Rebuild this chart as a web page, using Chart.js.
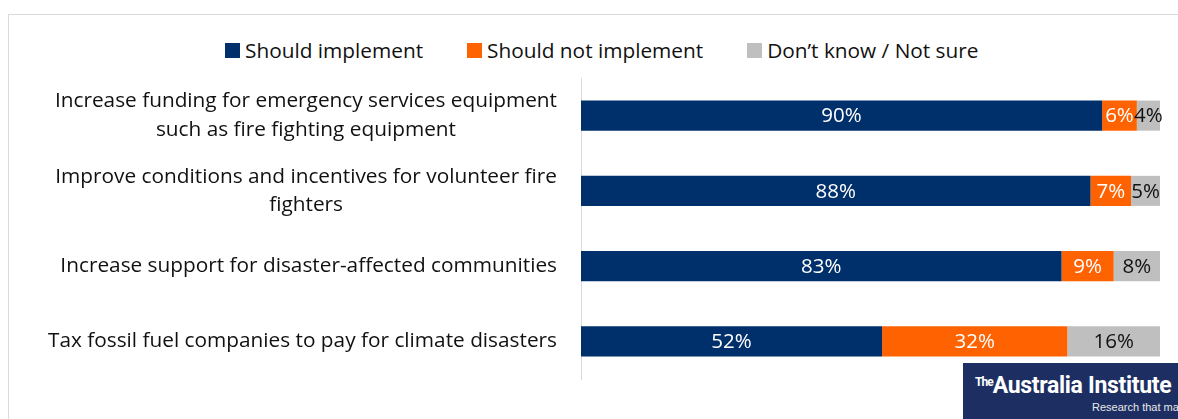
<!DOCTYPE html>
<html>
<head>
<meta charset="utf-8">
<script src="https://cdn.jsdelivr.net/npm/chart.js@4.4.1/dist/chart.umd.min.js"></script>
<style>
  html, body { margin: 0; padding: 0; background: #fff; overflow: hidden; }
  body { width: 1178px; height: 419px; position: relative; font-family: "Open Sans", sans-serif; }
  #frame { position: absolute; left: 8px; top: 14px; width: 1170px; height: 405px; border-left: 1px solid #d9d9d9; border-top: 1px solid #d9d9d9; box-sizing: border-box; }
  #legend { position: absolute; top: 36px; left: 225px; display: flex; font-size: 20.8px; color: #111; white-space: nowrap; }
  #legend .item { display: flex; align-items: center; margin-right: 44px; }
  #legend .box { width: 15px; height: 15px; margin-right: 5px; }
  #chart { position: absolute; left: 0; top: 0; }
  #logo { position: absolute; left: 963px; top: 363px; width: 215px; height: 56px; background: #1d2f62; color: #fff; overflow: hidden; white-space: nowrap; }
  #logo .name { position: absolute; left: 12px; top: 9px; font-family: "Liberation Sans Narrow", "Roboto", sans-serif; font-weight: bold; font-size: 23px; letter-spacing: -0.3px; }
  #logo .name small { font-size: 12px; vertical-align: 7px; letter-spacing: -1px; }
  #logo .tag { position: absolute; left: 129px; top: 38px; font-family: "Liberation Sans Narrow", sans-serif; font-size: 11px; color: #e8e8e8; }
</style>
</head>
<body>
<div id="frame"></div>
<div id="legend"></div>
<canvas id="chart" width="1178" height="419"></canvas>
<div id="logo"><span class="name"><small>The</small>Australia Institute</span><span class="tag">Research that matters</span></div>
<script>
var categories = [
    ["Increase funding for emergency services equipment", "such as fire fighting equipment"],
    ["Improve conditions and incentives for volunteer fire", "fighters"],
    ["Increase support for disaster-affected communities"],
    ["Tax fossil fuel companies to pay for climate disasters"]
];
var seriesNames = ["Should implement", "Should not implement", "Don\u2019t know / Not sure"];
var shouldImplement = [90, 88, 83, 52];
var shouldNotImplement = [6, 7, 9, 32];
var dontKnow = [4, 5, 8, 16];
var seriesColors = ["#00306b", "#ff6200", "#bfbfbf"];
var labelColors = ["#ffffff", "#ffffff", "#111111"];

var FONT = '"Open Sans", sans-serif';

// legend built from the series names and colours
var legendDiv = document.getElementById("legend");
for (var i = 0; i < seriesNames.length; i++) {
    var item = document.createElement("div");
    item.className = "item";
    var box = document.createElement("span");
    box.className = "box";
    box.style.background = seriesColors[i];
    var txt = document.createElement("span");
    txt.textContent = seriesNames[i];
    item.appendChild(box);
    item.appendChild(txt);
    legendDiv.appendChild(item);
}

// value labels inside each bar segment
var barLabels = {
    id: "barLabels",
    afterDatasetsDraw: function(chart) {
        var ctx = chart.ctx;
        ctx.save();
        ctx.font = "20.5px " + FONT;
        ctx.textAlign = "center";
        ctx.textBaseline = "middle";
        chart.data.datasets.forEach(function(ds, di) {
            var meta = chart.getDatasetMeta(di);
            meta.data.forEach(function(bar, j) {
                var x = (bar.x + bar.base) / 2;
                ctx.fillStyle = labelColors[di];
                ctx.fillText(ds.data[j] + "%", x, bar.y + 1);
            });
        });
        ctx.restore();
    }
};

// category labels: block right aligned, lines centred inside the block
var catLabels = {
    id: "catLabels",
    afterDraw: function(chart) {
        var ctx = chart.ctx;
        var yScale = chart.scales.y;
        var right = 557;
        var lineH = 28.5;
        ctx.save();
        ctx.font = "20.8px " + FONT;
        ctx.fillStyle = "#111";
        ctx.textAlign = "center";
        ctx.textBaseline = "middle";
        categories.forEach(function(lines, i) {
            var w = 0;
            lines.forEach(function(l) { w = Math.max(w, ctx.measureText(l).width); });
            var cx = right - w / 2;
            var cy = yScale.getPixelForValue(i);
            var y0 = cy - (lines.length - 1) * lineH / 2;
            lines.forEach(function(l, k) {
                ctx.fillText(l, cx, y0 + k * lineH);
            });
        });
        ctx.restore();
    }
};

var ctx = document.getElementById("chart").getContext("2d");
var chart = new Chart(ctx, {
    type: "bar",
    data: {
        labels: categories,
        datasets: [
            { label: seriesNames[0], data: shouldImplement, backgroundColor: seriesColors[0] },
            { label: seriesNames[1], data: shouldNotImplement, backgroundColor: seriesColors[1] },
            { label: seriesNames[2], data: dontKnow, backgroundColor: seriesColors[2] }
        ]
    },
    options: {
        indexAxis: "y",
        responsive: false,
        animation: false,
        layout: { padding: { top: 78, bottom: 40, right: 18, left: 0 } },
        datasets: { bar: { categoryPercentage: 1, barPercentage: 0.4, borderWidth: 0 } },
        scales: {
            x: { stacked: true, min: 0, max: 100, display: false },
            y: {
                stacked: true,
                grid: { display: false },
                border: { display: true, color: "#d9d9d9", width: 1 },
                ticks: { display: false },
                afterFit: function(scale) { scale.width = 581; }
            }
        },
        plugins: { legend: { display: false }, tooltip: { enabled: false } }
    },
    plugins: [barLabels, catLabels]
});
</script>
</body>
</html>
